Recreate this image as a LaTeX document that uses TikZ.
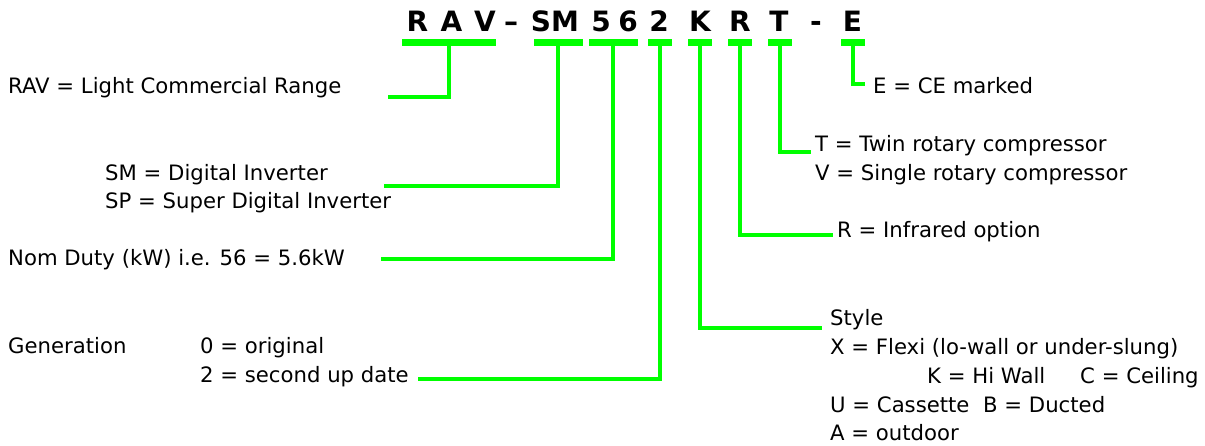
\documentclass[tikz,border=0pt]{standalone}
\usepackage{fontspec}
\setmainfont{DejaVu Sans}
\definecolor{lgreen}{HTML}{00FF00}
\begin{document}
\begin{tikzpicture}[x=1pt,y=-1pt,
  lbl/.style={anchor=base west, inner sep=0pt, font=\fontsize{21.2}{29}\selectfont},
  ttl/.style={anchor=base, inner sep=0pt, font=\fontsize{28}{32}\selectfont\bfseries},
  barbox/.style={fill=lgreen, inner sep=0pt, minimum height=7pt},
  conn/.style={draw=lgreen, line width=4pt}]
\useasboundingbox (0,0) rectangle (1205,445);

% title letters
\node[ttl] (tR) at (417.5,31) {R};
\node[ttl] (tA) at (451.5,31) {A};
\node[ttl] (tV) at (485,31) {V};
\node[ttl] (tD1) at (511,31) {–};
\node[ttl] (tSM) at (555,31) {SM};
\node[ttl] (t5) at (601,31) {5};
\node[ttl] (t6) at (628,31) {6};
\node[ttl] (t2) at (659,31) {2};
\node[ttl] (tK) at (700,31) {K};
\node[ttl] (tR2) at (740,31) {R};
\node[ttl] (tT) at (779,31) {T};
\node[ttl] (tD2) at (816,31) {-};
\node[ttl] (tE) at (852.5,31) {E};

% bars
\node[barbox, minimum width=94pt] (bar1) at (449,42.5) {};
\node[barbox, minimum width=49pt] (bar2) at (558,42.5) {};
\node[barbox, minimum width=49pt] (bar3) at (613,42.5) {};
\node[barbox, minimum width=24pt] (bar4) at (660,42.5) {};
\node[barbox, minimum width=24pt] (bar5) at (700,42.5) {};
\node[barbox, minimum width=24pt] (bar6) at (740,42.5) {};
\node[barbox, minimum width=24pt] (bar7) at (780,42.5) {};
\node[barbox, minimum width=24pt] (bar8) at (853,42.5) {};

% left labels
\node[lbl] (rav) at (8,93) {RAV = Light Commercial Range};
\node[lbl] (sm) at (105,180) {SM = Digital Inverter};
\node[lbl] (sp) at (105,208) {SP = Super Digital Inverter};
\node[lbl] (nom) at (8,265) {Nom Duty (kW) i.e. 56 = 5.6kW};
\node[lbl] (gen) at (8,353) {Generation};
\node[lbl] (g0) at (200,353) {0 = original};
\node[lbl] (g2) at (200,382) {2 = second up date};

% right labels
\node[lbl] (ce) at (873,93) {E = CE marked};
\node[lbl] (tw) at (815,151) {T = Twin rotary compressor};
\node[lbl] (sg) at (815,180) {V = Single rotary compressor};
\node[lbl] (ir) at (837,237) {R = Infrared option};
\node[lbl] (st) at (830,325) {Style};
\node[lbl] (sx) at (830,354) {X = Flexi (lo-wall or under-slung)};
\node[lbl] (sk) at (927,383) {\makebox[153pt][l]{K = Hi Wall}C = Ceiling};
\node[lbl] (su) at (830,412) {\makebox[153pt][l]{U = Cassette}B = Ducted};
\node[lbl] (sa) at (830,440) {A = outdoor};

% connector ends
\coordinate (e1) at (388,97);
\coordinate (e2) at (384,186);
\coordinate (e3) at (381,259);
\coordinate (e4) at (418,379);
\coordinate (e5) at (822,328);
\coordinate (e6) at (833,235);
\coordinate (e7) at (811,152);
\coordinate (e8) at (865,84);

\draw[conn] (bar1.center) |- (e1);
\draw[conn] (bar2.center) |- (e2);
\draw[conn] (bar3.center) |- (e3);
\draw[conn] (bar4.center) |- (e4);
\draw[conn] (bar5.center) |- (e5);
\draw[conn] (bar6.center) |- (e6);
\draw[conn] (bar7.center) |- (e7);
\draw[conn] (bar8.center) |- (e8);
\end{tikzpicture}
\end{document}
